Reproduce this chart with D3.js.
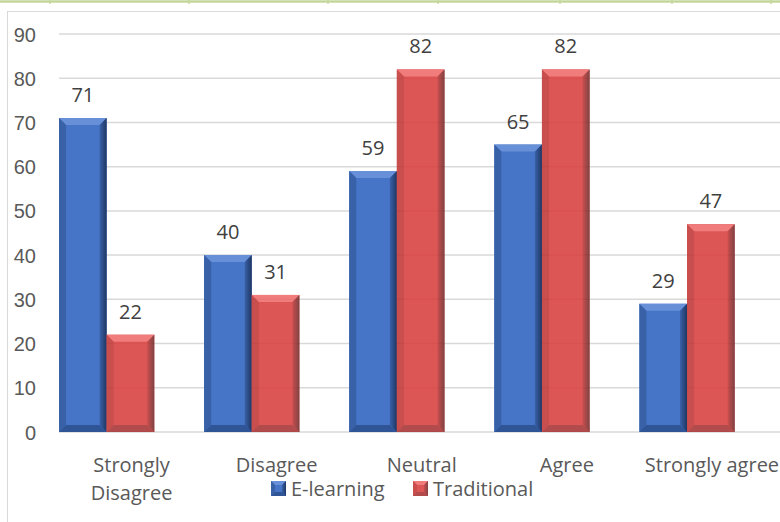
<!DOCTYPE html>
<html>
<head>
<meta charset="utf-8">
<script src="https://cdn.jsdelivr.net/npm/d3@7"></script>
<style>
  body { margin: 0; background: #fff; }
  svg { display: block; font-family: "Open Sans", sans-serif; }
  .lbl { fill: #404040; font-size: 20px; }
  .axis text { fill: #595959; font-size: 20px; }
</style>
</head>
<body>
<svg id="chart" width="780" height="522"></svg>
<script>
// chart data
var categories = ["Strongly Disagree", "Disagree", "Neutral", "Agree", "Strongly agree"];
var seriesNames = ["E-learning", "Traditional"];
var eLearning = [71, 40, 59, 65, 29];
var traditional = [22, 31, 82, 82, 47];
var yTicks = [0, 10, 20, 30, 40, 50, 60, 70, 80, 90];

var svg = d3.select("#chart");

// bits of the document table above the chart
var tableCols = [50, 189, 328, 438, 560, 672, 771];
svg.append("line")
    .attr("x1", 0).attr("x2", 780).attr("y1", 1.5).attr("y2", 1.5)
    .style("stroke", "#c4d79b").style("stroke-width", 2.5);
svg.selectAll(".tcol").data(tableCols).enter().append("line")
    .attr("x1", function(d) { return d; }).attr("x2", function(d) { return d; })
    .attr("y1", 0).attr("y2", 4)
    .style("stroke", "#c4d79b").style("stroke-width", 1.5);

// chart frame
svg.append("rect")
    .attr("x", 7.5).attr("y", 11.5).attr("width", 800).attr("height", 540)
    .style("fill", "none").style("stroke", "#d9d9d9");

var x = d3.scaleBand().domain(categories).range([59, 784.5]);
var xs = d3.scaleBand().domain(seriesNames).range([0, 95.3]);
var y = d3.scaleLinear().domain([0, 90]).range([432, 34]);

// gridlines
svg.selectAll(".grid").data(yTicks).enter().append("line")
    .attr("x1", 59).attr("x2", 780)
    .attr("y1", function(d) { return y(d); }).attr("y2", function(d) { return y(d); })
    .style("stroke", "#d9d9d9").style("stroke-width", 1.5);

// y axis labels
var yAxis = d3.axisLeft(y).tickValues(yTicks).tickSize(0).tickPadding(0);
svg.append("g").attr("class", "axis")
    .attr("transform", "translate(36,0)")
    .call(yAxis)
    .call(function(g) { g.select(".domain").remove(); })
    .selectAll("text").attr("dy", "0.35em");

var palette = {
  "E-learning": {id: "blue", base: "#4674c6", top: "#6790d8", left: "#3961a8", right: "#1f3763", bottom: "#2f5597", opacity: 1},
  "Traditional": {id: "red", base: "#d93f3f", top: "#ee6a6a", left: "#c23636", right: "#6e2a2a", bottom: "#a83434", opacity: 0.88}
};

// gradients for the shaded right edge
var defs = svg.append("defs");
seriesNames.forEach(function(name) {
  var c = palette[name];
  var gr = defs.append("linearGradient").attr("id", "rg-" + c.id)
    .attr("x1", "0").attr("x2", "1").attr("y1", "0").attr("y2", "0");
  gr.append("stop").attr("offset", "0").attr("stop-color", c.left);
  gr.append("stop").attr("offset", "1").attr("stop-color", c.right);
});

function bevelBar(g, bx, by, w, h, c, b) {
  g.append("rect").attr("x", bx).attr("y", by).attr("width", w).attr("height", h).style("fill", c.base);
  var pts = {
    top: [[bx, by], [bx + w, by], [bx + w - b, by + b], [bx + b, by + b]],
    left: [[bx, by], [bx + b, by + b], [bx + b, by + h - b], [bx, by + h]],
    right: [[bx + w, by], [bx + w, by + h], [bx + w - b, by + h - b], [bx + w - b, by + b]],
    bottom: [[bx, by + h], [bx + w, by + h], [bx + w - b, by + h - b], [bx + b, by + h - b]]
  };
  ["top", "left", "bottom", "right"].forEach(function(k) {
    g.append("polygon")
      .attr("points", pts[k].map(function(p) { return p.join(","); }).join(" "))
      .style("fill", k === "right" ? "url(#rg-" + c.id + ")" : c[k]);
  });
}

var seriesData = [eLearning, traditional];
seriesNames.forEach(function(name, si) {
  var c = palette[name];
  seriesData[si].forEach(function(v, i) {
    var bx = x(categories[i]) + xs(name);
    var g = svg.append("g").attr("opacity", c.opacity);
    bevelBar(g, bx, y(v), xs.bandwidth(), y(0) - y(v), c, 7);
    svg.append("text").attr("class", "lbl")
      .attr("x", bx + xs.bandwidth() / 2)
      .attr("y", y(v) - 23)
      .attr("dy", "0.35em")
      .attr("text-anchor", "middle")
      .text(v);
  });
});

// category labels (wrapped)
var catLines = {"Strongly Disagree": ["Strongly", "Disagree"]};
categories.forEach(function(cat) {
  var lines = catLines[cat] || [cat];
  var t = svg.append("text").attr("class", "lbl")
    .style("fill", "#595959")
    .attr("text-anchor", "middle")
    .attr("x", x(cat) + x.bandwidth() / 2)
    .attr("y", 465).attr("dy", "0.35em");
  lines.forEach(function(l, li) {
    t.append("tspan").attr("x", x(cat) + x.bandwidth() / 2)
      .attr("dy", li === 0 ? "0.35em" : "28px").text(l);
  });
});

// legend
var legendX = [271, 413];
seriesNames.forEach(function(name, i) {
  var g = svg.append("g").attr("opacity", palette[name].opacity);
  bevelBar(g, legendX[i], 481, 15, 15, palette[name], 4);
  svg.append("text").attr("class", "lbl")
    .style("fill", "#595959")
    .attr("x", legendX[i] + 20).attr("y", 488.5).attr("dy", "0.35em")
    .text(name);
});
</script>
</body>
</html>
